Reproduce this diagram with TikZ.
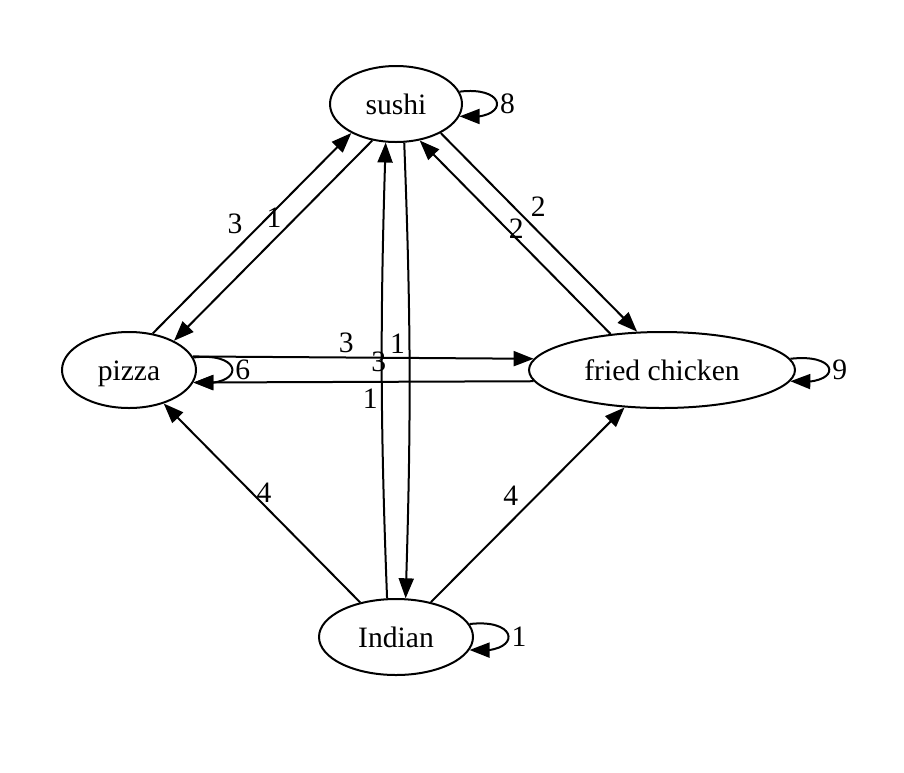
\documentclass[tikz,border=0pt]{standalone}
\usepackage{fontspec}
\setmainfont{Liberation Serif}
\usetikzlibrary{positioning,shapes.geometric,arrows.meta,bending}

\begin{document}
\begin{tikzpicture}[x=0.5pt,y=-0.5pt,
    food node/.style={ellipse,draw,line width=1pt,inner sep=0pt,minimum height=38pt,text height=10pt,text depth=0pt,font=\fontsize{14.8}{18}\selectfont},
    wt/.style={inner sep=0pt,font=\fontsize{14.8}{18}\selectfont},
    >={Triangle[length=10pt,width=7.5pt]}]
    \useasboundingbox (0,0) rectangle (904,772);

    \node[food node,minimum width=66pt] (sushi) at (396,104) {sushi};
    \node[food node,minimum width=67pt,on grid] (pizza) [below left = 133pt and 133.5pt of sushi] {pizza};
    \node[food node,minimum width=133pt,on grid] (fried) [right = 266.5pt of pizza] {fried chicken};
    \node[food node,minimum width=77pt,on grid] (indian) [below = 266.5pt of sushi] {Indian};

    \path[every edge/.append style={line width=1pt,->}]
    (pizza.57) edge node[wt,pos=0.48,shift={(-13,-13)}] {3} (sushi.213)
    (sushi.237) edge node[wt,pos=0.44,shift={(-11,-11)}] {1} (pizza.33)
    (sushi.327) edge node[wt,pos=0.43,shift={(13,-12)}] {2} (fried.123)
    (fried.145) edge node[wt,pos=0.52,shift={(5,-5)}] {2} (sushi.303)
    (pizza.12) edge node[wt,pos=0.45,shift={(0,-15)}] {3} (fried.175)
    (fried.185) edge node[wt,pos=0.48,shift={(0,17)}] {1} (pizza.349)
    (indian.103) edge[bend left=2] node[wt,pos=0.52,shift={(-3,0)}] {3} (sushi.255)
    (sushi.282) edge[bend left=2] node[wt,pos=0.435,shift={(-12,0)}] {1} (indian.76)
    (indian.136) edge node[wt,pos=0.52,shift={(6,-6)}] {4} (pizza.316)
    (indian.45) edge node[wt,pos=0.48,shift={(-13,-13)}] {4} (fried.225)
    ;

    % self loops
    \draw[line width=1pt,->] (sushi.11) .. controls +(50,-6) and +(50,6) .. node[wt,pos=0.5,right=1pt] {8} (sushi.-11);
    \draw[line width=1pt,->] (pizza.11) .. controls +(52,-6) and +(52,6) .. node[wt,pos=0.5,right=1pt] {6} (pizza.-11);
    \draw[line width=1pt,->] (fried.5) .. controls +(52,-6) and +(52,6) .. node[wt,pos=0.5,right=1pt] {9} (fried.-5);
    \draw[line width=1pt,->] (indian.10) .. controls +(52,-6) and +(52,6) .. node[wt,pos=0.5,right=1pt] {1} (indian.-10);
\end{tikzpicture}
\end{document}
